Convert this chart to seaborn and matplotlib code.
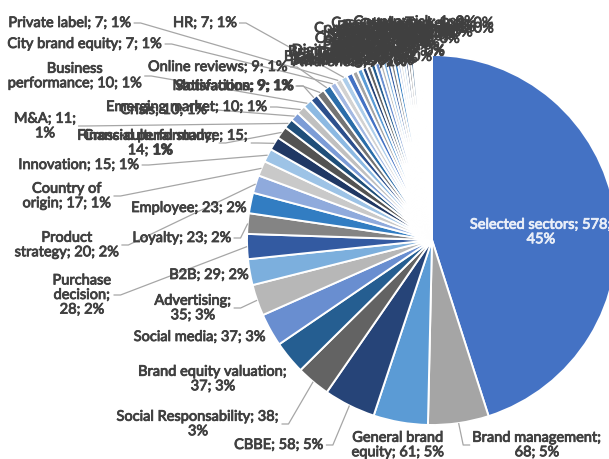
import textwrap
import colorsys

import numpy as np
import matplotlib
matplotlib.use("Agg")
import matplotlib.pyplot as plt
import matplotlib.patheffects as pe
import seaborn as sns

# ---- data: research topics and number of papers (sorted as in the pie) ----
topics = [
    "Selected sectors", "Brand management", "General brand equity", "CBBE",
    "Social Responsability", "Brand equity valuation", "Social media",
    "Advertising", "B2B", "Purchase decision", "Loyalty", "Employee",
    "Product strategy", "Country of origin", "Innovation",
    "Financial performance", "Cross-cultural study", "M&A", "Crisis",
    "Emerging market", "Business performance", "Satisfaction", "Motivations",
    "Online reviews", "City brand equity", "Private label", "HR",
]
papers = [
    578, 68, 61, 58,
    38, 37, 37,
    35, 29, 28, 23, 23,
    20, 17, 15,
    15, 14, 11, 10,
    10, 10, 9, 9,
    9, 7, 7, 7,
]

minor_topics = [
    "Awareness", "Brand image", "Sponsorship", "Co-branding", "Brand extension",
    "Luxury", "Trust", "Tourism", "Brand personality", "Digital marketing",
    "SMEs", "Retail", "Pricing", "Packaging", "Services", "Franchising",
    "Licensing", "Culture", "Communication", "Design", "Store brands",
    "Stock market", "Technology", "Intangible assets", "Investment",
    "Co-creation", "Corporate reputation", "Brand heritage", "Sustainability",
    "Celebrity", "Case study Turkey", "Country risk",
]
minor_papers = [
    7, 6, 6, 5, 5,
    5, 5, 4, 4, 4,
    4, 4, 3, 3, 3, 3,
    3, 3, 2, 2, 2,
    2, 2, 2, 2,
    1, 1, 1, 1,
    1, 1, 1,
]

# ---- layout (pixel positions, top-left origin) ----
W, H = 609, 459
CX, CY, R = 432, 240, 185

# label centre and wrap width for each named topic
label_pos = [
    (541, 232), (537, 445), (398, 445), (279, 445),
    (198, 424), (213, 379), (200, 337),
    (193, 308), (209, 275), (82, 295), (182, 238), (189, 208),
    (67, 245), (67, 196), (79, 165),
    (163, 143), (150, 143), (45, 126), (164, 110),
    (187, 107), (75, 76), (235, 86), (233, 86),
    (218, 67), (85, 44), (70, 23), (205, 23),
]
label_wrap = [
    22, 17, 14, 30,
    26, 23, 30,
    12, 30, 9, 30, 30,
    16, 14, 30,
    26, 21, 8, 30,
    30, 20, 30, 30,
    30, 30, 30, 30,
]

sns.set_theme(style="white")
plt.rcParams["font.family"] = ["Lato", "DejaVu Sans"]

all_topics = topics + minor_topics
all_papers = papers + minor_papers
total = sum(all_papers)

# Office-style colour variations built from three accent colours
accents = sns.color_palette(["#4472C4", "#A5A5A5", "#5B9BD5"])
variations = [(1.0, 0.0), (0.6, 0.0), (0.8, 0.2), (0.8, 0.0), (0.6, 0.4),
              (0.5, 0.0), (0.7, 0.3), (0.7, 0.0), (0.5, 0.5)]


def shade(rgb, mod, off):
    h, l, s = colorsys.rgb_to_hls(*rgb)
    return colorsys.hls_to_rgb(h, min(1.0, l * mod + off), s)


colors = [shade(accents[i % 3], *variations[(i // 3) % len(variations)])
          for i in range(len(all_papers))]

fig = plt.figure(figsize=(W / 100, H / 100), dpi=100)
ax = fig.add_axes([0, 0, 1, 1])
ax.pie(all_papers, colors=colors, startangle=90, counterclock=False,
       center=(CX, H - CY), radius=R, frame=True,
       wedgeprops=dict(edgecolor="white", linewidth=1.4))
ax.set_xlim(0, W)
ax.set_ylim(0, H)
ax.set_aspect("equal")
ax.axis("off")


def label_text(name, value, width):
    pct = int(np.floor(value / total * 100 + 0.5))
    return textwrap.fill(f"{name}; {value}; {pct}%", width=width,
                         break_long_words=False)


TEXT = "#404040"
FS = 10.5


def heavier(color):
    # a thin outline in the text colour gives the labels a slightly fuller stroke
    return [pe.withStroke(linewidth=0.6, foreground=color)]


texts = []
for i, (name, value) in enumerate(zip(topics, papers)):
    x, y = label_pos[i]
    col = "#E9EEF8" if i == 0 else TEXT
    t = ax.text(x, H - y, label_text(name, value, label_wrap[i]),
                ha="center", va="center", multialignment="center",
                fontsize=FS, color=col, linespacing=1.05, zorder=5,
                path_effects=heavier(col))
    texts.append(t)

# small topics crowd together above the pie
n_minor = len(minor_topics)
mx = np.linspace(350, 415, n_minor)
my = np.linspace(62, 22, n_minor)
for j, (name, value) in enumerate(zip(minor_topics, minor_papers)):
    ax.text(mx[j], H - my[j], label_text(name, value, 40),
            ha="center", va="center", fontsize=FS, color=TEXT,
            linespacing=1.05, zorder=5, path_effects=heavier(TEXT))

# leader lines from each outside label to the middle of its slice
fig.canvas.draw()
renderer = fig.canvas.get_renderer()
cum = np.cumsum([0] + all_papers)
for i in range(1, len(topics)):
    theta = np.radians((cum[i] + all_papers[i] / 2) / total * 360)
    ax_x = CX + R * np.sin(theta)
    ax_y = (H - CY) + R * np.cos(theta)
    bb = texts[i].get_window_extent(renderer)
    dx = max(bb.x0 - ax_x, 0, ax_x - bb.x1)
    dy = max(bb.y0 - ax_y, 0, ax_y - bb.y1)
    if np.hypot(dx, dy) < 12:
        continue
    sy = (bb.y0 + bb.y1) / 2
    if ax_x > (bb.x0 + bb.x1) / 2:
        sx = bb.x1 + 2
        ex = sx + 7
    else:
        sx = bb.x0 - 2
        ex = sx - 7
    ax.plot([ax_x, ex, sx], [ax_y, sy, sy], color="#A6A6A6", lw=0.9,
            zorder=3, solid_capstyle="butt")

fig.savefig("out.png", dpi=100)
